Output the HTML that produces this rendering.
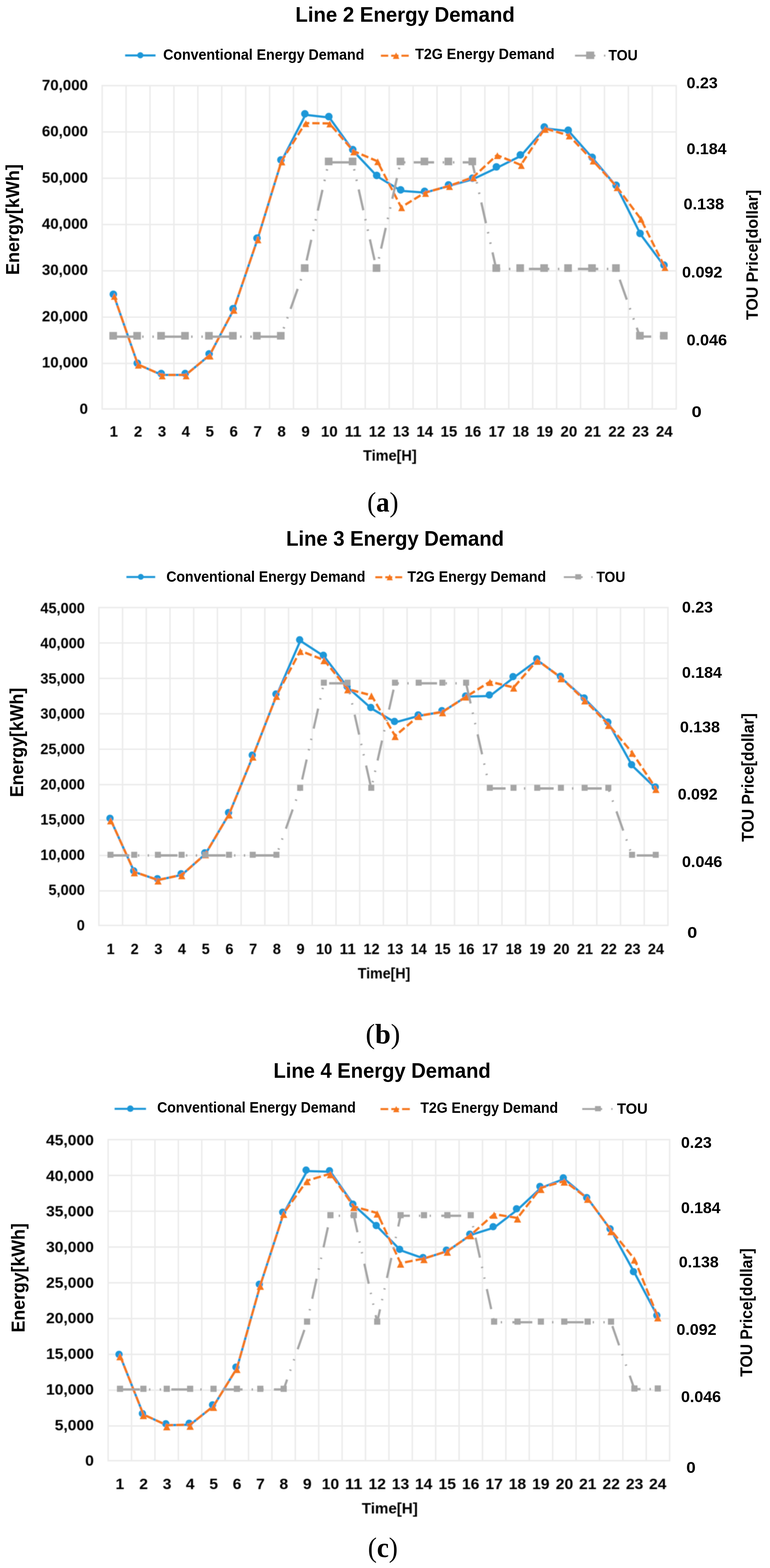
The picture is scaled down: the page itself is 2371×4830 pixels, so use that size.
<!DOCTYPE html>
<html lang="en">
<head>
<meta charset="utf-8">
<title>Energy Demand - Lines 2, 3 and 4</title>
<style>
html,body{margin:0;padding:0;background:#fff;}
body{width:2371px;height:4830px;overflow:hidden;font-family:"Liberation Sans",sans-serif;}
svg{display:block;}
text{fill:#000;}
.s,.t{font-family:"Liberation Sans",sans-serif;font-weight:bold;}
.cap{font-family:"Liberation Serif",serif;font-weight:normal;}
</style>
</head>
<body>
<svg width="2371" height="4830" viewBox="0 0 2371 4830">
<defs>
<filter id="f0" x="0" y="0" width="2371" height="4830" filterUnits="userSpaceOnUse"><feGaussianBlur stdDeviation="0.9"/></filter>
<filter id="f1" x="0" y="0" width="2371" height="4830" filterUnits="userSpaceOnUse"><feGaussianBlur stdDeviation="1.1"/></filter>
<filter id="f2" x="0" y="0" width="2371" height="4830" filterUnits="userSpaceOnUse"><feGaussianBlur stdDeviation="1.0"/></filter>
<filter id="f3" x="0" y="0" width="2371" height="4830" filterUnits="userSpaceOnUse"><feGaussianBlur stdDeviation="0.35"/></filter>
</defs>
<rect width="2371" height="4830" fill="#fff"/>
<g filter="url(#f0)">
<path d="M314.6 263.7V1259.8M388.25 263.7V1259.8M461.9 263.7V1259.8M535.55 263.7V1259.8M609.2 263.7V1259.8M682.85 263.7V1259.8M756.5 263.7V1259.8M830.15 263.7V1259.8M903.8 263.7V1259.8M977.45 263.7V1259.8M1051.1 263.7V1259.8M1124.75 263.7V1259.8M1198.4 263.7V1259.8M1272.05 263.7V1259.8M1345.7 263.7V1259.8M1419.35 263.7V1259.8M1493 263.7V1259.8M1566.65 263.7V1259.8M1640.3 263.7V1259.8M1713.95 263.7V1259.8M1787.6 263.7V1259.8M1861.25 263.7V1259.8M1934.9 263.7V1259.8M2008.55 263.7V1259.8M2082.2 263.7V1259.8M314.6 263.7H2082.2M314.6 406.33H2082.2M314.6 548.96H2082.2M314.6 691.59H2082.2M314.6 834.22H2082.2M314.6 976.85H2082.2M314.6 1119.48H2082.2M314.6 1259.8H2082.2" stroke="#ebebeb" stroke-width="4.4" fill="none" stroke-linecap="square"/>
<path d="M304.4 1871.5V2850.6M377.41 1871.5V2850.6M450.42 1871.5V2850.6M523.44 1871.5V2850.6M596.45 1871.5V2850.6M669.46 1871.5V2850.6M742.47 1871.5V2850.6M815.49 1871.5V2850.6M888.5 1871.5V2850.6M961.51 1871.5V2850.6M1034.52 1871.5V2850.6M1107.54 1871.5V2850.6M1180.55 1871.5V2850.6M1253.56 1871.5V2850.6M1326.57 1871.5V2850.6M1399.59 1871.5V2850.6M1472.6 1871.5V2850.6M1545.61 1871.5V2850.6M1618.62 1871.5V2850.6M1691.64 1871.5V2850.6M1764.65 1871.5V2850.6M1837.66 1871.5V2850.6M1910.67 1871.5V2850.6M1983.69 1871.5V2850.6M2056.7 1871.5V2850.6M304.4 1871.5H2056.7M304.4 1980.59H2056.7M304.4 2089.68H2056.7M304.4 2198.77H2056.7M304.4 2307.86H2056.7M304.4 2416.95H2056.7M304.4 2526.04H2056.7M304.4 2635.13H2056.7M304.4 2744.22H2056.7M304.4 2850.6H2056.7" stroke="#ebebeb" stroke-width="4.4" fill="none" stroke-linecap="square"/>
<path d="M333 3510.5V4499.5M405.04 3510.5V4499.5M477.08 3510.5V4499.5M549.12 3510.5V4499.5M621.17 3510.5V4499.5M693.21 3510.5V4499.5M765.25 3510.5V4499.5M837.29 3510.5V4499.5M909.33 3510.5V4499.5M981.38 3510.5V4499.5M1053.42 3510.5V4499.5M1125.46 3510.5V4499.5M1197.5 3510.5V4499.5M1269.54 3510.5V4499.5M1341.58 3510.5V4499.5M1413.62 3510.5V4499.5M1485.67 3510.5V4499.5M1557.71 3510.5V4499.5M1629.75 3510.5V4499.5M1701.79 3510.5V4499.5M1773.83 3510.5V4499.5M1845.88 3510.5V4499.5M1917.92 3510.5V4499.5M1989.96 3510.5V4499.5M2062 3510.5V4499.5M333 3510.5H2062M333 3620.75H2062M333 3731H2062M333 3841.25H2062M333 3951.5H2062M333 4061.75H2062M333 4172H2062M333 4282.25H2062M333 4392.5H2062M333 4499.5H2062" stroke="#ebebeb" stroke-width="4.4" fill="none" stroke-linecap="square"/>
</g>
<g filter="url(#f1)">
<g><polyline points="350.7,910.35 424.42,1122.5 498.14,1154.95 571.86,1154.95 645.58,1094.1 719.3,954.05 793.02,736.9 866.74,496.35 940.46,353.6 1014.18,362.2 1087.9,465.05 1161.62,543.3 1235.34,587.8 1309.06,593.3 1382.78,572.8 1456.5,551.9 1530.22,517 1603.94,480.1 1677.66,395.5 1751.38,404.2 1825.1,487.7 1898.82,575.1 1972.54,722 2046.26,821" fill="none" stroke="#1f97d8" stroke-width="6.8" stroke-linejoin="round"/></g>
<g fill="#1f97d8"><circle cx="349" cy="906.5" r="11.6"/><circle cx="422.72" cy="1118.8" r="11.6"/><circle cx="496.44" cy="1150.7" r="11.6"/><circle cx="570.16" cy="1150.7" r="11.6"/><circle cx="643.88" cy="1090" r="11.6"/><circle cx="717.6" cy="950.9" r="11.6"/><circle cx="791.32" cy="733.6" r="11.6"/><circle cx="865.04" cy="492.5" r="11.6"/><circle cx="938.76" cy="350.6" r="11.6"/><circle cx="1012.48" cy="359.2" r="11.6"/><circle cx="1086.2" cy="460.9" r="11.6"/><circle cx="1159.92" cy="540.3" r="11.6"/><circle cx="1233.64" cy="584.8" r="11.6"/><circle cx="1307.36" cy="589.4" r="11.6"/><circle cx="1381.08" cy="569.7" r="11.6"/><circle cx="1454.8" cy="548.9" r="11.6"/><circle cx="1528.52" cy="514" r="11.6"/><circle cx="1602.24" cy="477.1" r="11.6"/><circle cx="1675.96" cy="391.1" r="11.6"/><circle cx="1749.68" cy="401.2" r="11.6"/><circle cx="1823.4" cy="484.7" r="11.6"/><circle cx="1897.12" cy="570.7" r="11.6"/><circle cx="1970.84" cy="719" r="11.6"/><circle cx="2044.56" cy="816.6" r="11.6"/></g>
<g transform="scale(1 1.047)"><polyline points="350.7,869.48 424.42,1072.11 498.14,1103.1 571.86,1103.1 645.58,1044.99 719.3,911.22 793.02,703.82 866.74,474.07 940.46,362.18 1014.18,363.13 1087.9,444.17 1161.62,474.21 1235.34,609.55 1309.06,566.67 1382.78,547.09 1456.5,521.68 1530.22,456.35 1603.94,485.39 1677.66,377.75 1751.38,398.38 1825.1,472.3 1898.82,549.28 1972.54,643.36 2046.26,784.15" fill="none" stroke="#f6761e" stroke-width="6.8" stroke-dasharray="22.5 9.1" stroke-linejoin="round"/></g>
<path fill="#f6761e" d="M352.1 902.5L362.6 923.5H341.6ZM425.82 1114.5L436.32 1135.5H415.32ZM499.54 1147.5L510.04 1168.5H489.04ZM573.26 1147.5L583.76 1168.5H562.76ZM646.98 1086.5L657.48 1107.5H636.48ZM720.7 945.5L731.2 966.5H710.2ZM794.42 728.5L804.92 749.5H783.92ZM868.14 488.5L878.64 509.5H857.64ZM941.86 370.5L952.36 391.5H931.36ZM1015.58 371.5L1026.08 392.5H1005.08ZM1089.3 457.5L1099.8 478.5H1078.8ZM1163.02 487.8L1173.52 508.8H1152.52ZM1236.74 629.5L1247.24 650.5H1226.24ZM1310.46 585.5L1320.96 606.5H1299.96ZM1384.18 564.2L1394.68 585.2H1373.68ZM1457.9 537.5L1468.4 558.5H1447.4ZM1531.62 469.1L1542.12 490.1H1521.12ZM1605.34 499.5L1615.84 520.5H1594.84ZM1679.06 388.2L1689.56 409.2H1668.56ZM1752.78 408.4L1763.28 429.4H1742.28ZM1826.5 485.8L1837 506.8H1816ZM1900.22 567.8L1910.72 588.8H1889.72ZM1973.94 664.9L1984.44 685.9H1963.44ZM2047.66 813.7L2058.16 834.7H2037.16Z"/>
<g transform="scale(1 1.047)"><polyline points="348.5,990.54 422.22,990.54 495.94,990.54 569.66,990.54 643.38,990.54 717.1,990.54 790.82,990.54 864.54,990.54 938.26,791.31 1011.98,477.65 1085.7,477.65 1159.42,791.31 1233.14,477.65 1306.86,477.65 1380.58,477.65 1454.3,477.65 1528.02,791.31 1601.74,791.31 1675.46,791.31 1749.18,791.31 1822.9,791.31 1896.62,791.31 1970.34,990.35 2044.06,990.35" fill="none" stroke="#a5a5a5" stroke-width="7" stroke-dasharray="62.7 26.5 4.5 27 4.5 25.6" stroke-linejoin="round"/></g>
<g fill="#a5a5a5"><rect x="336.75" y="1022.55" width="23.5" height="23.5"/><rect x="410.47" y="1022.55" width="23.5" height="23.5"/><rect x="484.19" y="1022.55" width="23.5" height="23.5"/><rect x="557.91" y="1022.55" width="23.5" height="23.5"/><rect x="631.63" y="1022.55" width="23.5" height="23.5"/><rect x="705.35" y="1022.55" width="23.5" height="23.5"/><rect x="779.07" y="1022.55" width="23.5" height="23.5"/><rect x="852.79" y="1022.55" width="23.5" height="23.5"/><rect x="926.51" y="813.95" width="23.5" height="23.5"/><rect x="1000.23" y="485.55" width="23.5" height="23.5"/><rect x="1073.95" y="485.55" width="23.5" height="23.5"/><rect x="1147.67" y="813.95" width="23.5" height="23.5"/><rect x="1221.39" y="485.55" width="23.5" height="23.5"/><rect x="1295.11" y="485.55" width="23.5" height="23.5"/><rect x="1368.83" y="485.55" width="23.5" height="23.5"/><rect x="1442.55" y="485.55" width="23.5" height="23.5"/><rect x="1516.27" y="813.95" width="23.5" height="23.5"/><rect x="1589.99" y="813.95" width="23.5" height="23.5"/><rect x="1663.71" y="813.95" width="23.5" height="23.5"/><rect x="1737.43" y="813.95" width="23.5" height="23.5"/><rect x="1811.15" y="813.95" width="23.5" height="23.5"/><rect x="1884.87" y="813.95" width="23.5" height="23.5"/><rect x="1958.59" y="1022.35" width="23.5" height="23.5"/><rect x="2032.31" y="1022.35" width="23.5" height="23.5"/></g>
<path d="M385.3 170.8h93.6" stroke="#1f97d8" stroke-width="6.4"/>
<circle cx="432.1" cy="170.3" r="9.5" fill="#1f97d8"/>
<path d="M1172.9 171.6h93.6" stroke="#f6761e" stroke-width="6.4" stroke-dasharray="22.5 9.1"/>
<path d="M1219.7 161.6L1229.7 181.6H1209.7Z" fill="#f6761e"/>
<path d="M1770.5 171.3h93.6" stroke="#a5a5a5" stroke-width="5.8" stroke-dasharray="62.7 26.5 4.5 27 4.5 25.6"/>
<rect x="1804.8" y="158.8" width="25" height="23" fill="#a5a5a5"/>
<g><polyline points="340.7,2525.05 413.7,2685.9 486.7,2710.7 559.7,2695 632.7,2630.5 705.7,2507.25 778.7,2329.5 851.7,2141.85 924.7,1973.8 997.7,2021.4 1070.7,2117.5 1143.7,2182.3 1216.7,2225.3 1289.7,2205.1 1362.7,2192.7 1435.7,2145.95 1508.7,2143.8 1581.7,2087.2 1654.7,2033.8 1727.7,2087.5 1800.7,2153 1873.7,2227.3 1946.7,2358.5 2019.7,2428.5" fill="none" stroke="#1f97d8" stroke-width="6.8" stroke-linejoin="round"/></g>
<g fill="#1f97d8"><circle cx="338.7" cy="2520.6" r="11.2"/><circle cx="411.7" cy="2682.4" r="11.2"/><circle cx="484.7" cy="2706.7" r="11.2"/><circle cx="557.7" cy="2691.5" r="11.2"/><circle cx="630.7" cy="2627" r="11.2"/><circle cx="703.7" cy="2503" r="11.2"/><circle cx="776.7" cy="2326" r="11.2"/><circle cx="849.7" cy="2137.8" r="11.2"/><circle cx="922.7" cy="1970.8" r="11.2"/><circle cx="995.7" cy="2018.4" r="11.2"/><circle cx="1068.7" cy="2114.5" r="11.2"/><circle cx="1141.7" cy="2179.3" r="11.2"/><circle cx="1214.7" cy="2222.3" r="11.2"/><circle cx="1287.7" cy="2202.1" r="11.2"/><circle cx="1360.7" cy="2188.9" r="11.2"/><circle cx="1433.7" cy="2143.9" r="11.2"/><circle cx="1506.7" cy="2140.8" r="11.2"/><circle cx="1579.7" cy="2084.2" r="11.2"/><circle cx="1652.7" cy="2029.5" r="11.2"/><circle cx="1725.7" cy="2083.2" r="11.2"/><circle cx="1798.7" cy="2150" r="11.2"/><circle cx="1871.7" cy="2224.3" r="11.2"/><circle cx="1944.7" cy="2355.5" r="11.2"/><circle cx="2017.7" cy="2424.2" r="11.2"/></g>
<g transform="scale(1 1.09)"><polyline points="340.7,2316.56 413.7,2464.13 486.7,2486.88 559.7,2472.48 632.7,2413.3 705.7,2300.23 778.7,2137.16 851.7,1965 924.7,1839.27 997.7,1865.23 1070.7,1947.43 1143.7,1965.05 1216.7,2079.63 1289.7,2023.03 1362.7,2011.65 1435.7,1968.76 1508.7,1926.51 1581.7,1942.75 1654.7,1865.87 1727.7,1915.14 1800.7,1978.99 1873.7,2048.07 1946.7,2127.06 2019.7,2227.98" fill="none" stroke="#f6761e" stroke-width="6.8" stroke-dasharray="21.5 9.1" stroke-linejoin="round"/></g>
<path fill="#f6761e" d="M340.7 2517.5L351.7 2539.5H329.7ZM413.7 2677.4L424.7 2699.4H402.7ZM486.7 2702.7L497.7 2724.7H475.7ZM559.7 2686.5L570.7 2708.5H548.7ZM632.7 2622L643.7 2644H621.7ZM705.7 2499.5L716.7 2521.5H694.7ZM778.7 2321L789.7 2343H767.7ZM851.7 2133.9L862.7 2155.9H840.7ZM924.7 1995.8L935.7 2017.8H913.7ZM997.7 2024.1L1008.7 2046.1H986.7ZM1070.7 2113.7L1081.7 2135.7H1059.7ZM1143.7 2132.9L1154.7 2154.9H1132.7ZM1216.7 2257.8L1227.7 2279.8H1205.7ZM1289.7 2196.1L1300.7 2218.1H1278.7ZM1362.7 2184.5L1373.7 2206.5H1351.7ZM1435.7 2136L1446.7 2158H1424.7ZM1508.7 2090.9L1519.7 2112.9H1497.7ZM1581.7 2108.6L1592.7 2130.6H1570.7ZM1654.7 2026.1L1665.7 2048.1H1643.7ZM1727.7 2079.8L1738.7 2101.8H1716.7ZM1800.7 2148.1L1811.7 2170.1H1789.7ZM1873.7 2223.4L1884.7 2245.4H1862.7ZM1946.7 2309.5L1957.7 2331.5H1935.7ZM2019.7 2420.8L2030.7 2442.8H2008.7Z"/>
<g transform="scale(1 1.09)"><polyline points="340.2,2417.43 413.2,2417.43 486.2,2417.43 559.2,2417.43 632.2,2417.43 705.2,2417.43 778.2,2417.43 851.2,2417.43 924.2,2228.17 997.2,1931.1 1070.2,1931.1 1143.2,2228.17 1216.2,1931.1 1289.2,1931.1 1362.2,1931.1 1435.2,1931.1 1508.2,2228.17 1581.2,2228.17 1654.2,2228.17 1727.2,2228.17 1800.2,2228.17 1873.2,2228.17 1946.2,2417.52 2019.2,2417.52" fill="none" stroke="#a5a5a5" stroke-width="6.8" stroke-dasharray="58.1 26.5 4 26.1 4 29.3" stroke-linejoin="round"/></g>
<g fill="#a5a5a5"><rect x="330.95" y="2623.75" width="18.5" height="18.5"/><rect x="403.95" y="2623.75" width="18.5" height="18.5"/><rect x="476.95" y="2623.75" width="18.5" height="18.5"/><rect x="549.95" y="2623.75" width="18.5" height="18.5"/><rect x="622.95" y="2623.75" width="18.5" height="18.5"/><rect x="695.95" y="2623.75" width="18.5" height="18.5"/><rect x="768.95" y="2623.75" width="18.5" height="18.5"/><rect x="841.95" y="2623.75" width="18.5" height="18.5"/><rect x="914.95" y="2417.45" width="18.5" height="18.5"/><rect x="987.95" y="2093.65" width="18.5" height="18.5"/><rect x="1060.95" y="2093.65" width="18.5" height="18.5"/><rect x="1133.95" y="2417.45" width="18.5" height="18.5"/><rect x="1206.95" y="2093.65" width="18.5" height="18.5"/><rect x="1279.95" y="2093.65" width="18.5" height="18.5"/><rect x="1352.95" y="2093.65" width="18.5" height="18.5"/><rect x="1425.95" y="2093.65" width="18.5" height="18.5"/><rect x="1498.95" y="2417.45" width="18.5" height="18.5"/><rect x="1571.95" y="2417.45" width="18.5" height="18.5"/><rect x="1644.95" y="2417.45" width="18.5" height="18.5"/><rect x="1717.95" y="2417.45" width="18.5" height="18.5"/><rect x="1790.95" y="2417.45" width="18.5" height="18.5"/><rect x="1863.95" y="2417.45" width="18.5" height="18.5"/><rect x="1936.95" y="2623.85" width="18.5" height="18.5"/><rect x="2009.95" y="2623.85" width="18.5" height="18.5"/></g>
<path d="M389.3 1777.3h88.6" stroke="#1f97d8" stroke-width="6.2"/>
<circle cx="433.6" cy="1776.8" r="9" fill="#1f97d8"/>
<path d="M1155.7 1778.1h88.6" stroke="#f6761e" stroke-width="6.2" stroke-dasharray="21.5 9.1"/>
<path d="M1200 1768.6L1209.5 1787.6H1190.5Z" fill="#f6761e"/>
<path d="M1736.1 1777.8h88.6" stroke="#a5a5a5" stroke-width="5.6" stroke-dasharray="58.1 26.5 4 26.1 4 29.3"/>
<rect x="1771.4" y="1768.8" width="18" height="16" fill="#a5a5a5"/>
<g><polyline points="369.5,4175.5 441.5,4357.25 513.5,4390.15 585.5,4388.65 657.5,4331.2 729.5,4214.8 801.5,3958.95 873.5,3737.25 945.5,3607.3 1017.5,3609.3 1089.5,3712.2 1161.5,3778 1233.5,3851.4 1305.5,3876.7 1377.5,3853.95 1449.5,3804.1 1521.5,3781.6 1593.5,3726.4 1665.5,3659.15 1737.5,3631.3 1809.5,3691.55 1881.5,3789.4 1953.5,3920.2 2025.5,4055.6" fill="none" stroke="#1f97d8" stroke-width="6.8" stroke-linejoin="round"/></g>
<g fill="#1f97d8"><circle cx="366.5" cy="4172" r="11.2"/><circle cx="438.5" cy="4354.2" r="11.2"/><circle cx="510.5" cy="4385.6" r="11.2"/><circle cx="582.5" cy="4384.1" r="11.2"/><circle cx="654.5" cy="4327.4" r="11.2"/><circle cx="726.5" cy="4211.2" r="11.2"/><circle cx="798.5" cy="3955.9" r="11.2"/><circle cx="870.5" cy="3734" r="11.2"/><circle cx="942.5" cy="3604.3" r="11.2"/><circle cx="1014.5" cy="3606.3" r="11.2"/><circle cx="1086.5" cy="3709.2" r="11.2"/><circle cx="1158.5" cy="3775" r="11.2"/><circle cx="1230.5" cy="3848.4" r="11.2"/><circle cx="1302.5" cy="3873.7" r="11.2"/><circle cx="1374.5" cy="3850.9" r="11.2"/><circle cx="1446.5" cy="3801.8" r="11.2"/><circle cx="1518.5" cy="3778.6" r="11.2"/><circle cx="1590.5" cy="3723.4" r="11.2"/><circle cx="1662.5" cy="3654.6" r="11.2"/><circle cx="1734.5" cy="3628.3" r="11.2"/><circle cx="1806.5" cy="3689" r="11.2"/><circle cx="1878.5" cy="3785.1" r="11.2"/><circle cx="1950.5" cy="3917.2" r="11.2"/><circle cx="2022.5" cy="4051.8" r="11.2"/></g>
<g transform="scale(1 1.028)"><polyline points="369.5,4061.77 441.5,4238.57 513.5,4270.57 585.5,4269.11 657.5,4213.23 729.5,4100 801.5,3851.12 873.5,3635.46 945.5,3537.84 1017.5,3516.73 1089.5,3615.18 1161.5,3634.82 1233.5,3784.92 1305.5,3771.11 1377.5,3748.98 1449.5,3700.49 1521.5,3638.23 1593.5,3649.61 1665.5,3559.48 1737.5,3538.91 1809.5,3591 1881.5,3686.19 1953.5,3772.67 2025.5,3945.14" fill="none" stroke="#f6761e" stroke-width="6.8" stroke-dasharray="23.8 9.4" stroke-linejoin="round"/></g>
<path fill="#f6761e" d="M369.5 4167.8L380.7 4190.2H358.3ZM441.5 4349.1L452.7 4371.5H430.3ZM513.5 4383.5L524.7 4405.9H502.3ZM585.5 4382L596.7 4404.4H574.3ZM657.5 4323.8L668.7 4346.2H646.3ZM729.5 4207.2L740.7 4229.6H718.3ZM801.5 3950.8L812.7 3973.2H790.3ZM873.5 3729.3L884.7 3751.7H862.3ZM945.5 3628.7L956.7 3651.1H934.3ZM1017.5 3607L1028.7 3629.4H1006.3ZM1089.5 3708.2L1100.7 3730.6H1078.3ZM1161.5 3728.4L1172.7 3750.8H1150.3ZM1233.5 3882.7L1244.7 3905.1H1222.3ZM1305.5 3868.5L1316.7 3890.9H1294.3ZM1377.5 3845.8L1388.7 3868.2H1366.3ZM1449.5 3795.2L1460.7 3817.6H1438.3ZM1521.5 3731.9L1532.7 3754.3H1510.3ZM1593.5 3743.6L1604.7 3766H1582.3ZM1665.5 3652.5L1676.7 3674.9H1654.3ZM1737.5 3629.8L1748.7 3652.2H1726.3ZM1809.5 3682.9L1820.7 3705.3H1798.3ZM1881.5 3782.5L1892.7 3804.9H1870.3ZM1953.5 3870.1L1964.7 3892.5H1942.3ZM2025.5 4048.2L2036.7 4070.6H2014.3Z"/>
<g transform="scale(1 1.028)"><polyline points="369.5,4163.42 441.5,4163.42 513.5,4163.42 585.5,4163.42 657.5,4163.42 729.5,4163.42 801.5,4163.42 873.5,4163.42 945.5,3962.06 1017.5,3643.09 1089.5,3643.09 1161.5,3962.06 1233.5,3643.09 1305.5,3643.09 1377.5,3643.09 1449.5,3643.09 1521.5,3962.06 1593.5,3962.06 1665.5,3962.06 1737.5,3962.06 1809.5,3962.06 1881.5,3962.06 1953.5,4162.45 2025.5,4162.45" fill="none" stroke="#a5a5a5" stroke-width="6.8" stroke-dasharray="61.4 28 4 28.9 4 31.7" stroke-linejoin="round"/></g>
<g fill="#a5a5a5"><rect x="360" y="4268.5" width="19" height="19"/><rect x="432" y="4268.5" width="19" height="19"/><rect x="504" y="4268.5" width="19" height="19"/><rect x="576" y="4268.5" width="19" height="19"/><rect x="648" y="4268.5" width="19" height="19"/><rect x="720" y="4268.5" width="19" height="19"/><rect x="792" y="4268.5" width="19" height="19"/><rect x="864" y="4268.5" width="19" height="19"/><rect x="936" y="4061.5" width="19" height="19"/><rect x="1008" y="3733.6" width="19" height="19"/><rect x="1080" y="3733.6" width="19" height="19"/><rect x="1152" y="4061.5" width="19" height="19"/><rect x="1224" y="3733.6" width="19" height="19"/><rect x="1296" y="3733.6" width="19" height="19"/><rect x="1368" y="3733.6" width="19" height="19"/><rect x="1440" y="3733.6" width="19" height="19"/><rect x="1512" y="4061.5" width="19" height="19"/><rect x="1584" y="4061.5" width="19" height="19"/><rect x="1656" y="4061.5" width="19" height="19"/><rect x="1728" y="4061.5" width="19" height="19"/><rect x="1800" y="4061.5" width="19" height="19"/><rect x="1872" y="4061.5" width="19" height="19"/><rect x="1944" y="4267.5" width="19" height="19"/><rect x="2016" y="4267.5" width="19" height="19"/></g>
<path d="M352.9 3415.6h96.7" stroke="#1f97d8" stroke-width="6.2"/>
<circle cx="401.25" cy="3415.1" r="10" fill="#1f97d8"/>
<path d="M1171.7 3416.4h96.7" stroke="#f6761e" stroke-width="6.2" stroke-dasharray="23.8 9.4"/>
<path d="M1220.05 3406.9L1229.55 3425.9H1210.55Z" fill="#f6761e"/>
<path d="M1792.8 3416.1h96.7" stroke="#a5a5a5" stroke-width="5.6" stroke-dasharray="61.4 28 4 28.9 4 31.7"/>
<rect x="1832.15" y="3407.1" width="18" height="16" fill="#a5a5a5"/>
</g>
<g filter="url(#f2)">
<text class="t" x="1118.1" y="1419.1" font-size="47.09" textLength="164.99" lengthAdjust="spacingAndGlyphs">Time[H]</text>
<text class="t" x="128.91" y="277.8" font-size="46.37" textLength="141.79" lengthAdjust="spacingAndGlyphs">70,000</text>
<text class="t" x="128.91" y="420.21" font-size="46.37" textLength="141.79" lengthAdjust="spacingAndGlyphs">60,000</text>
<text class="t" x="128.91" y="562.63" font-size="46.37" textLength="141.79" lengthAdjust="spacingAndGlyphs">50,000</text>
<text class="t" x="128.91" y="705.04" font-size="46.37" textLength="141.79" lengthAdjust="spacingAndGlyphs">40,000</text>
<text class="t" x="128.91" y="847.46" font-size="46.37" textLength="141.79" lengthAdjust="spacingAndGlyphs">30,000</text>
<text class="t" x="128.91" y="989.87" font-size="46.37" textLength="141.79" lengthAdjust="spacingAndGlyphs">20,000</text>
<text class="t" x="128.91" y="1132.29" font-size="46.37" textLength="141.79" lengthAdjust="spacingAndGlyphs">10,000</text>
<text class="t" x="244.92" y="1274.7" font-size="46.37" textLength="25.78" lengthAdjust="spacingAndGlyphs">0</text>
<text class="t" x="337.49" y="1345" font-size="46.37" textLength="25.78" lengthAdjust="spacingAndGlyphs">1</text>
<text class="t" x="412.13" y="1345" font-size="46.37" textLength="25.78" lengthAdjust="spacingAndGlyphs">2</text>
<text class="t" x="486.01" y="1345" font-size="46.37" textLength="25.78" lengthAdjust="spacingAndGlyphs">3</text>
<text class="t" x="559.18" y="1345" font-size="46.37" textLength="25.78" lengthAdjust="spacingAndGlyphs">4</text>
<text class="t" x="633.04" y="1345" font-size="46.37" textLength="25.78" lengthAdjust="spacingAndGlyphs">5</text>
<text class="t" x="706.8" y="1345" font-size="46.37" textLength="25.78" lengthAdjust="spacingAndGlyphs">6</text>
<text class="t" x="780.53" y="1345" font-size="46.37" textLength="25.78" lengthAdjust="spacingAndGlyphs">7</text>
<text class="t" x="854.19" y="1345" font-size="46.37" textLength="25.78" lengthAdjust="spacingAndGlyphs">8</text>
<text class="t" x="927.97" y="1345" font-size="46.37" textLength="25.78" lengthAdjust="spacingAndGlyphs">9</text>
<text class="t" x="988.21" y="1345" font-size="46.37" textLength="51.57" lengthAdjust="spacingAndGlyphs">10</text>
<text class="t" x="1061.6" y="1345" font-size="46.37" textLength="51.57" lengthAdjust="spacingAndGlyphs">11</text>
<text class="t" x="1135.59" y="1345" font-size="46.37" textLength="51.57" lengthAdjust="spacingAndGlyphs">12</text>
<text class="t" x="1209.19" y="1345" font-size="46.37" textLength="51.57" lengthAdjust="spacingAndGlyphs">13</text>
<text class="t" x="1282.18" y="1345" font-size="46.37" textLength="51.57" lengthAdjust="spacingAndGlyphs">14</text>
<text class="t" x="1356.4" y="1345" font-size="46.37" textLength="51.57" lengthAdjust="spacingAndGlyphs">15</text>
<text class="t" x="1430.29" y="1345" font-size="46.37" textLength="51.57" lengthAdjust="spacingAndGlyphs">16</text>
<text class="t" x="1504.18" y="1345" font-size="46.37" textLength="51.57" lengthAdjust="spacingAndGlyphs">17</text>
<text class="t" x="1577.57" y="1345" font-size="46.37" textLength="51.57" lengthAdjust="spacingAndGlyphs">18</text>
<text class="t" x="1651.42" y="1345" font-size="46.37" textLength="51.57" lengthAdjust="spacingAndGlyphs">19</text>
<text class="t" x="1725.86" y="1345" font-size="46.37" textLength="51.57" lengthAdjust="spacingAndGlyphs">20</text>
<text class="t" x="1799.26" y="1345" font-size="46.37" textLength="51.57" lengthAdjust="spacingAndGlyphs">21</text>
<text class="t" x="1873.24" y="1345" font-size="46.37" textLength="51.57" lengthAdjust="spacingAndGlyphs">22</text>
<text class="t" x="1946.85" y="1345" font-size="46.37" textLength="51.57" lengthAdjust="spacingAndGlyphs">23</text>
<text class="t" x="2019.84" y="1345" font-size="46.37" textLength="51.57" lengthAdjust="spacingAndGlyphs">24</text>
<text class="t" x="1101.51" y="3013.6" font-size="47.09" textLength="161.83" lengthAdjust="spacingAndGlyphs">Time[H]</text>
<text class="t" x="124.32" y="1888.6" font-size="46.37" textLength="136.91" lengthAdjust="spacingAndGlyphs">45,000</text>
<text class="t" x="124.32" y="1997.19" font-size="46.37" textLength="136.91" lengthAdjust="spacingAndGlyphs">40,000</text>
<text class="t" x="124.32" y="2105.78" font-size="46.37" textLength="136.91" lengthAdjust="spacingAndGlyphs">35,000</text>
<text class="t" x="124.32" y="2214.37" font-size="46.37" textLength="136.91" lengthAdjust="spacingAndGlyphs">30,000</text>
<text class="t" x="124.32" y="2322.96" font-size="46.37" textLength="136.91" lengthAdjust="spacingAndGlyphs">25,000</text>
<text class="t" x="124.32" y="2431.54" font-size="46.37" textLength="136.91" lengthAdjust="spacingAndGlyphs">20,000</text>
<text class="t" x="124.32" y="2540.13" font-size="46.37" textLength="136.91" lengthAdjust="spacingAndGlyphs">15,000</text>
<text class="t" x="124.32" y="2648.72" font-size="46.37" textLength="136.91" lengthAdjust="spacingAndGlyphs">10,000</text>
<text class="t" x="149.22" y="2757.31" font-size="46.37" textLength="112.02" lengthAdjust="spacingAndGlyphs">5,000</text>
<text class="t" x="236.34" y="2865.9" font-size="46.37" textLength="24.9" lengthAdjust="spacingAndGlyphs">0</text>
<text class="t" x="328.27" y="2938.5" font-size="46.37" textLength="24.9" lengthAdjust="spacingAndGlyphs">1</text>
<text class="t" x="402.17" y="2938.5" font-size="46.37" textLength="24.9" lengthAdjust="spacingAndGlyphs">2</text>
<text class="t" x="475.35" y="2938.5" font-size="46.37" textLength="24.9" lengthAdjust="spacingAndGlyphs">3</text>
<text class="t" x="547.83" y="2938.5" font-size="46.37" textLength="24.9" lengthAdjust="spacingAndGlyphs">4</text>
<text class="t" x="620.99" y="2938.5" font-size="46.37" textLength="24.9" lengthAdjust="spacingAndGlyphs">5</text>
<text class="t" x="694.04" y="2938.5" font-size="46.37" textLength="24.9" lengthAdjust="spacingAndGlyphs">6</text>
<text class="t" x="767.07" y="2938.5" font-size="46.37" textLength="24.9" lengthAdjust="spacingAndGlyphs">7</text>
<text class="t" x="840.03" y="2938.5" font-size="46.37" textLength="24.9" lengthAdjust="spacingAndGlyphs">8</text>
<text class="t" x="913.11" y="2938.5" font-size="46.37" textLength="24.9" lengthAdjust="spacingAndGlyphs">9</text>
<text class="t" x="973.11" y="2938.5" font-size="46.37" textLength="49.79" lengthAdjust="spacingAndGlyphs">10</text>
<text class="t" x="1045.82" y="2938.5" font-size="46.37" textLength="49.79" lengthAdjust="spacingAndGlyphs">11</text>
<text class="t" x="1119.09" y="2938.5" font-size="46.37" textLength="49.79" lengthAdjust="spacingAndGlyphs">12</text>
<text class="t" x="1192" y="2938.5" font-size="46.37" textLength="49.79" lengthAdjust="spacingAndGlyphs">13</text>
<text class="t" x="1264.32" y="2938.5" font-size="46.37" textLength="49.79" lengthAdjust="spacingAndGlyphs">14</text>
<text class="t" x="1337.82" y="2938.5" font-size="46.37" textLength="49.79" lengthAdjust="spacingAndGlyphs">15</text>
<text class="t" x="1411" y="2938.5" font-size="46.37" textLength="49.79" lengthAdjust="spacingAndGlyphs">16</text>
<text class="t" x="1484.18" y="2938.5" font-size="46.37" textLength="49.79" lengthAdjust="spacingAndGlyphs">17</text>
<text class="t" x="1556.88" y="2938.5" font-size="46.37" textLength="49.79" lengthAdjust="spacingAndGlyphs">18</text>
<text class="t" x="1630.03" y="2938.5" font-size="46.37" textLength="49.79" lengthAdjust="spacingAndGlyphs">19</text>
<text class="t" x="1703.75" y="2938.5" font-size="46.37" textLength="49.79" lengthAdjust="spacingAndGlyphs">20</text>
<text class="t" x="1776.45" y="2938.5" font-size="46.37" textLength="49.79" lengthAdjust="spacingAndGlyphs">21</text>
<text class="t" x="1849.72" y="2938.5" font-size="46.37" textLength="49.79" lengthAdjust="spacingAndGlyphs">22</text>
<text class="t" x="1922.64" y="2938.5" font-size="46.37" textLength="49.79" lengthAdjust="spacingAndGlyphs">23</text>
<text class="t" x="1994.95" y="2938.5" font-size="46.37" textLength="49.79" lengthAdjust="spacingAndGlyphs">24</text>
<text class="t" x="1114.08" y="4662.4" font-size="47.09" textLength="172.32" lengthAdjust="spacingAndGlyphs">Time[H]</text>
<text class="t" x="141.67" y="3527.8" font-size="46.37" textLength="147.3" lengthAdjust="spacingAndGlyphs">45,000</text>
<text class="t" x="141.67" y="3637.52" font-size="46.37" textLength="147.3" lengthAdjust="spacingAndGlyphs">40,000</text>
<text class="t" x="141.67" y="3747.24" font-size="46.37" textLength="147.3" lengthAdjust="spacingAndGlyphs">35,000</text>
<text class="t" x="141.67" y="3856.97" font-size="46.37" textLength="147.3" lengthAdjust="spacingAndGlyphs">30,000</text>
<text class="t" x="141.67" y="3966.69" font-size="46.37" textLength="147.3" lengthAdjust="spacingAndGlyphs">25,000</text>
<text class="t" x="141.67" y="4076.41" font-size="46.37" textLength="147.3" lengthAdjust="spacingAndGlyphs">20,000</text>
<text class="t" x="141.67" y="4186.13" font-size="46.37" textLength="147.3" lengthAdjust="spacingAndGlyphs">15,000</text>
<text class="t" x="141.67" y="4295.86" font-size="46.37" textLength="147.3" lengthAdjust="spacingAndGlyphs">10,000</text>
<text class="t" x="168.46" y="4405.58" font-size="46.37" textLength="120.52" lengthAdjust="spacingAndGlyphs">5,000</text>
<text class="t" x="262.19" y="4515.3" font-size="46.37" textLength="26.78" lengthAdjust="spacingAndGlyphs">0</text>
<text class="t" x="355.76" y="4587" font-size="46.37" textLength="26.78" lengthAdjust="spacingAndGlyphs">1</text>
<text class="t" x="428.74" y="4587" font-size="46.37" textLength="26.78" lengthAdjust="spacingAndGlyphs">2</text>
<text class="t" x="500.93" y="4587" font-size="46.37" textLength="26.78" lengthAdjust="spacingAndGlyphs">3</text>
<text class="t" x="572.37" y="4587" font-size="46.37" textLength="26.78" lengthAdjust="spacingAndGlyphs">4</text>
<text class="t" x="644.54" y="4587" font-size="46.37" textLength="26.78" lengthAdjust="spacingAndGlyphs">5</text>
<text class="t" x="716.6" y="4587" font-size="46.37" textLength="26.78" lengthAdjust="spacingAndGlyphs">6</text>
<text class="t" x="788.63" y="4587" font-size="46.37" textLength="26.78" lengthAdjust="spacingAndGlyphs">7</text>
<text class="t" x="860.58" y="4587" font-size="46.37" textLength="26.78" lengthAdjust="spacingAndGlyphs">8</text>
<text class="t" x="932.67" y="4587" font-size="46.37" textLength="26.78" lengthAdjust="spacingAndGlyphs">9</text>
<text class="t" x="990.69" y="4587" font-size="46.37" textLength="53.57" lengthAdjust="spacingAndGlyphs">10</text>
<text class="t" x="1062.37" y="4587" font-size="46.37" textLength="53.57" lengthAdjust="spacingAndGlyphs">11</text>
<text class="t" x="1134.66" y="4587" font-size="46.37" textLength="53.57" lengthAdjust="spacingAndGlyphs">12</text>
<text class="t" x="1206.57" y="4587" font-size="46.37" textLength="53.57" lengthAdjust="spacingAndGlyphs">13</text>
<text class="t" x="1277.83" y="4587" font-size="46.37" textLength="53.57" lengthAdjust="spacingAndGlyphs">14</text>
<text class="t" x="1350.37" y="4587" font-size="46.37" textLength="53.57" lengthAdjust="spacingAndGlyphs">15</text>
<text class="t" x="1422.57" y="4587" font-size="46.37" textLength="53.57" lengthAdjust="spacingAndGlyphs">16</text>
<text class="t" x="1494.76" y="4587" font-size="46.37" textLength="53.57" lengthAdjust="spacingAndGlyphs">17</text>
<text class="t" x="1566.44" y="4587" font-size="46.37" textLength="53.57" lengthAdjust="spacingAndGlyphs">18</text>
<text class="t" x="1638.59" y="4587" font-size="46.37" textLength="53.57" lengthAdjust="spacingAndGlyphs">19</text>
<text class="t" x="1711.37" y="4587" font-size="46.37" textLength="53.57" lengthAdjust="spacingAndGlyphs">20</text>
<text class="t" x="1783.05" y="4587" font-size="46.37" textLength="53.57" lengthAdjust="spacingAndGlyphs">21</text>
<text class="t" x="1855.34" y="4587" font-size="46.37" textLength="53.57" lengthAdjust="spacingAndGlyphs">22</text>
<text class="t" x="1927.25" y="4587" font-size="46.37" textLength="53.57" lengthAdjust="spacingAndGlyphs">23</text>
<text class="t" x="1998.51" y="4587" font-size="46.37" textLength="53.57" lengthAdjust="spacingAndGlyphs">24</text>
</g>
<g filter="url(#f3)">
<text class="s" x="909.61" y="66.6" font-size="63.95" textLength="675.52" lengthAdjust="spacingAndGlyphs">Line 2 Energy Demand</text>
<text class="s" x="502.41" y="183.6" font-size="47.09" textLength="619.36" lengthAdjust="spacingAndGlyphs">Conventional Energy Demand</text>
<text class="s" x="1278.61" y="182" font-size="47.09" textLength="428.96" lengthAdjust="spacingAndGlyphs">T2G Energy Demand</text>
<text class="s" x="1873.52" y="186.2" font-size="47.09" textLength="90.08" lengthAdjust="spacingAndGlyphs">TOU</text>
<text class="s" transform="translate(58.8 847) rotate(-90)" font-size="57.56" textLength="341.11" lengthAdjust="spacingAndGlyphs">Energy[kWh]</text>
<text class="s" transform="translate(2333.4 985.55) rotate(-90)" font-size="50.29" textLength="400.78" lengthAdjust="spacingAndGlyphs">TOU Price[dollar]</text>
<text class="s" x="2114.05" y="272.1" font-size="48.26" textLength="95.93" lengthAdjust="spacingAndGlyphs">0.23</text>
<text class="s" x="2114.05" y="475" font-size="48.26" textLength="123.21" lengthAdjust="spacingAndGlyphs">0.184</text>
<text class="s" x="2104.72" y="644.6" font-size="48.26" textLength="125.22" lengthAdjust="spacingAndGlyphs">0.138</text>
<text class="s" x="2100.34" y="854.7" font-size="48.26" textLength="123.94" lengthAdjust="spacingAndGlyphs">0.092</text>
<text class="s" x="2114.03" y="1064.1" font-size="48.26" textLength="124.77" lengthAdjust="spacingAndGlyphs">0.046</text>
<text class="s" x="2129.6" y="1284.9" font-size="48.26" textLength="30.99" lengthAdjust="spacingAndGlyphs">0</text>
<text class="cap" x="1130.78" y="1576.4" font-size="87" textLength="96.15" lengthAdjust="spacingAndGlyphs">(<tspan font-weight="bold">a</tspan>)</text>
<text class="s" x="880.94" y="1681" font-size="63.95" textLength="670.86" lengthAdjust="spacingAndGlyphs">Line 3 Energy Demand</text>
<text class="s" x="512.13" y="1791.6" font-size="47.09" textLength="613.01" lengthAdjust="spacingAndGlyphs">Conventional Energy Demand</text>
<text class="s" x="1254.41" y="1791.6" font-size="47.09" textLength="427.15" lengthAdjust="spacingAndGlyphs">T2G Energy Demand</text>
<text class="s" x="1836.43" y="1792.8" font-size="46.51" textLength="88.95" lengthAdjust="spacingAndGlyphs">TOU</text>
<text class="s" transform="translate(71.2 2455.66) rotate(-90)" font-size="56.98" textLength="337.13" lengthAdjust="spacingAndGlyphs">Energy[kWh]</text>
<text class="s" transform="translate(2320.5 2592.94) rotate(-90)" font-size="51.16" textLength="396.15" lengthAdjust="spacingAndGlyphs">TOU Price[dollar]</text>
<text class="s" x="2100.06" y="1886.8" font-size="47.97" textLength="95.31" lengthAdjust="spacingAndGlyphs">0.23</text>
<text class="s" x="2100.06" y="2087.7" font-size="47.97" textLength="122.6" lengthAdjust="spacingAndGlyphs">0.184</text>
<text class="s" x="2093.76" y="2256" font-size="47.97" textLength="123.06" lengthAdjust="spacingAndGlyphs">0.138</text>
<text class="s" x="2086.96" y="2463.4" font-size="47.97" textLength="122.5" lengthAdjust="spacingAndGlyphs">0.092</text>
<text class="s" x="2100.04" y="2670.9" font-size="47.97" textLength="124.15" lengthAdjust="spacingAndGlyphs">0.046</text>
<text class="s" x="2116.32" y="2889.4" font-size="47.97" textLength="30.64" lengthAdjust="spacingAndGlyphs">0</text>
<text class="cap" x="1125.77" y="3214" font-size="87" textLength="106.56" lengthAdjust="spacingAndGlyphs">(<tspan font-weight="bold">b</tspan>)</text>
<text class="s" x="842.05" y="3320.3" font-size="63.95" textLength="668.94" lengthAdjust="spacingAndGlyphs">Line 4 Energy Demand</text>
<text class="s" x="483.94" y="3426.6" font-size="47.09" textLength="611.7" lengthAdjust="spacingAndGlyphs">Conventional Energy Demand</text>
<text class="s" x="1294.52" y="3427.8" font-size="47.09" textLength="423.93" lengthAdjust="spacingAndGlyphs">T2G Energy Demand</text>
<text class="s" x="1900" y="3431.2" font-size="46.51" textLength="94.43" lengthAdjust="spacingAndGlyphs">TOU</text>
<text class="s" transform="translate(75.8 4104.45) rotate(-90)" font-size="56.98" textLength="336.51" lengthAdjust="spacingAndGlyphs">Energy[kWh]</text>
<text class="s" transform="translate(2316 4240.84) rotate(-90)" font-size="51.31" textLength="395.44" lengthAdjust="spacingAndGlyphs">TOU Price[dollar]</text>
<text class="s" x="2096.98" y="3535.9" font-size="47.97" textLength="94.47" lengthAdjust="spacingAndGlyphs">0.23</text>
<text class="s" x="2096.98" y="3736.9" font-size="47.97" textLength="121.68" lengthAdjust="spacingAndGlyphs">0.184</text>
<text class="s" x="2090.36" y="3904.4" font-size="47.97" textLength="122.54" lengthAdjust="spacingAndGlyphs">0.138</text>
<text class="s" x="2083.06" y="4111.5" font-size="47.97" textLength="123.01" lengthAdjust="spacingAndGlyphs">0.092</text>
<text class="s" x="2096.95" y="4318.8" font-size="47.97" textLength="123.23" lengthAdjust="spacingAndGlyphs">0.046</text>
<text class="s" x="2113.35" y="4536.5" font-size="47.97" textLength="28.77" lengthAdjust="spacingAndGlyphs">0</text>
<text class="cap" x="1132.75" y="4795.6" font-size="87" textLength="92.2" lengthAdjust="spacingAndGlyphs">(<tspan font-weight="bold">c</tspan>)</text>
</g>
</svg>
</body>
</html>
